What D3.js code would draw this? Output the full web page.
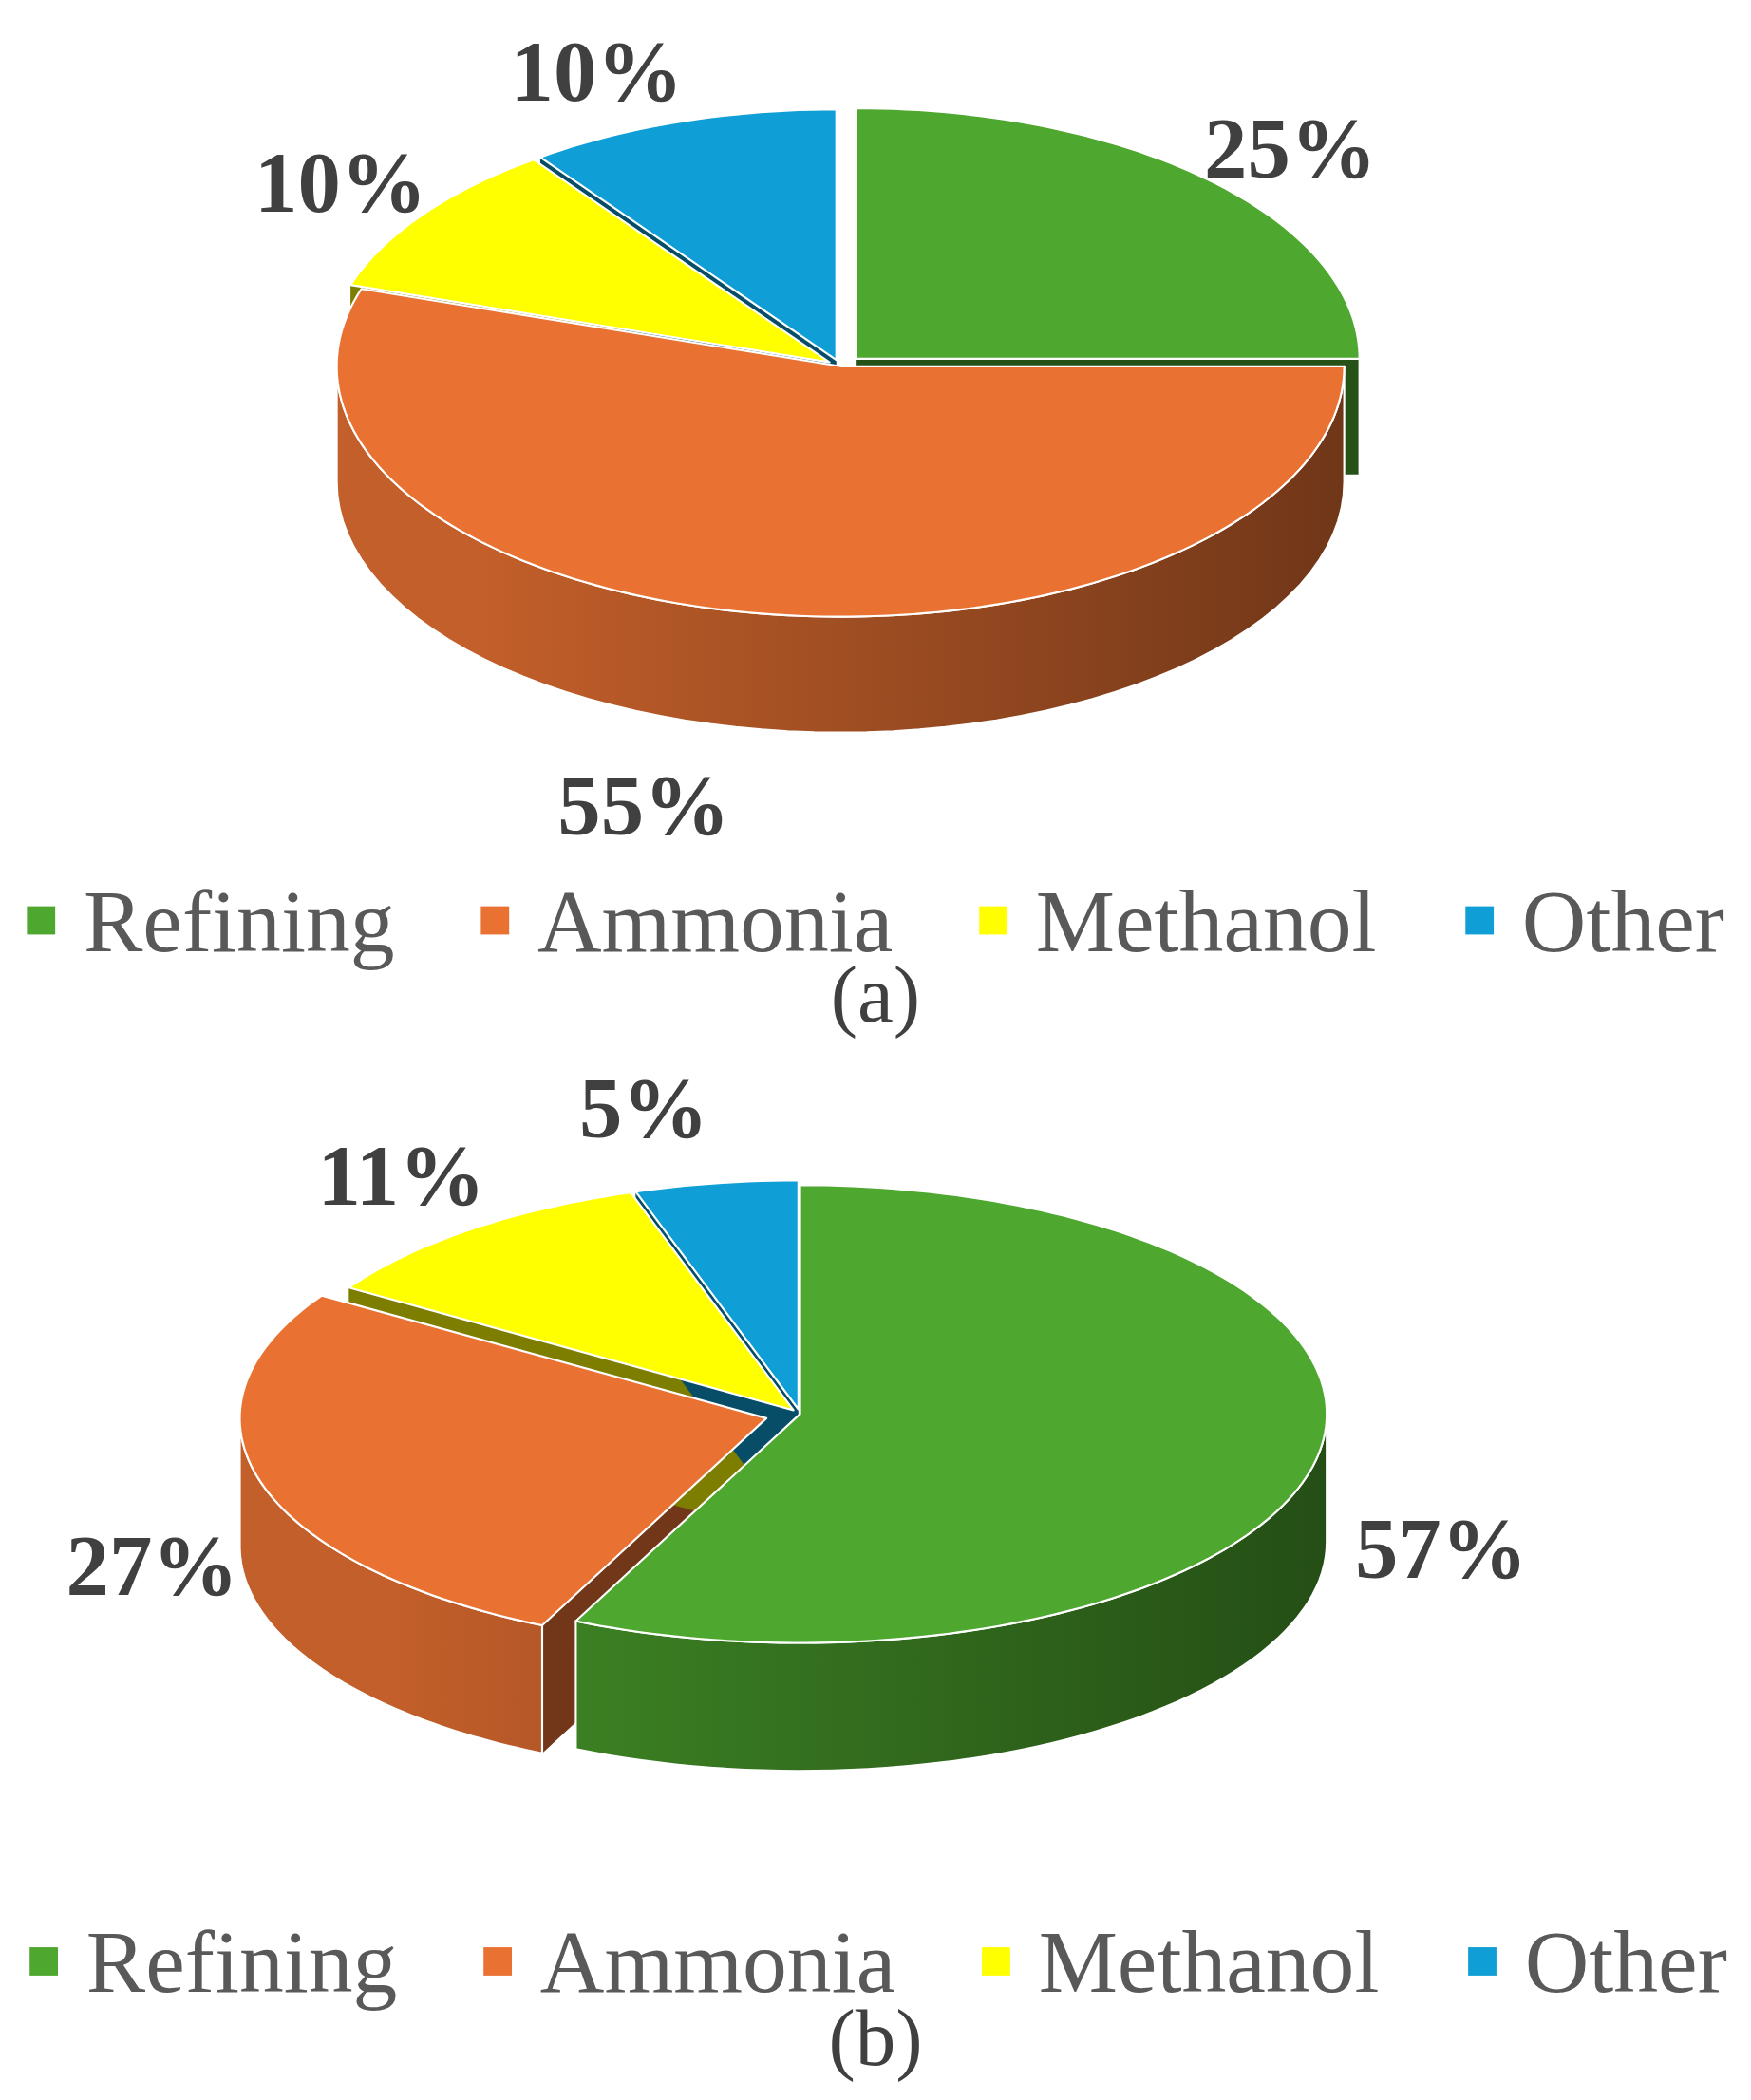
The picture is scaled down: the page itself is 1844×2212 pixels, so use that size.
<!DOCTYPE html>
<html><head><meta charset="utf-8">
<script src="https://cdn.jsdelivr.net/npm/d3@7"></script>
<style>body{margin:0;background:#fff}</style>
</head><body>
<svg id="chart" width="1844" height="2212"></svg>
<script>
var categories = ["Refining", "Ammonia", "Methanol", "Other"];
var colors = ["#4ea72e", "#e97132", "#ffff00", "#0f9ed5"];
var valuesA = [25, 55, 10, 10];
var valuesB = [57, 27, 11, 5];
var labelsA = ["25%", "55%", "10%", "10%"];
var labelsB = ["57%", "27%", "11%", "5%"];

var k = 1844/1300;
var svg = d3.select("#chart");
var root = svg.append("g").attr("transform", "scale(" + k + ")");
var defs = svg.append("defs");

function drawPie(opt) {
    var pie = d3.pie().sort(null).value(function(d){ return d; });
    var arcs = pie(opt.values);
    var cx = opt.cx, cy = opt.cy, rx = opt.rx, ry = opt.ry, h = opt.depth;
    var g = root.append("g");
    function pt(a, o) { return [cx + o[0] + rx*Math.sin(a), cy + o[1] - ry*Math.cos(a)]; }
    arcs.forEach(function(d, i) {
        var mid = (d.startAngle + d.endAngle)/2, e = opt.explode[i];
        d.off = [e*Math.sin(mid), -e*Math.cos(mid)*ry/rx];
    });
    // radial cut faces, only those facing the viewer
    arcs.forEach(function(d, i) {
        if (!opt.explode[i]) return;
        var faces = [];
        if (Math.sin(d.startAngle) < -0.01) faces.push(d.startAngle);
        if (Math.sin(d.endAngle) > 0.01) faces.push(d.endAngle);
        faces.forEach(function(a) {
            var c = [cx + d.off[0], cy + d.off[1]], p = pt(a, d.off);
            g.append("path")
                .attr("d", "M" + c + "L" + p + "L" + [p[0], p[1]+h] + "L" + [c[0], c[1]+h] + "Z")
                .attr("fill", d3.color(colors[i]).darker(2));
        });
    });
    // outer walls (front half only)
    arcs.forEach(function(d, i) {
        var a0 = Math.max(d.startAngle, Math.PI/2), a1 = Math.min(d.endAngle, 3*Math.PI/2);
        if (a1 <= a0) return;
        var id = "grad" + opt.id + i;
        var gr = defs.append("linearGradient").attr("id", id)
            .attr("gradientUnits", "userSpaceOnUse")
            .attr("x1", (cx - rx)*k).attr("x2", (cx + rx)*k).attr("y1", 0).attr("y2", 0);
        gr.append("stop").attr("offset", 0).attr("stop-color", d3.color(colors[i]).darker(0.5));
        gr.append("stop").attr("offset", 0.75).attr("stop-color", d3.color(colors[i]).darker(2.6));
        gr.append("stop").attr("offset", 1).attr("stop-color", d3.color(colors[i]).darker(2.6));
        var pts = d3.range(0, 61).map(function(j){ return pt(a0 + (a1-a0)*j/60, d.off); });
        var path = "M" + pts.map(String).join("L");
        pts.slice().reverse().forEach(function(p){ path += "L" + [p[0], p[1]+h]; });
        g.append("path").attr("d", path + "Z").attr("fill", "url(#" + id + ")")
            .attr("stroke", "#fff").attr("stroke-width", 1.5).attr("stroke-linejoin", "round");
    });
    // tops
    arcs.forEach(function(d, i) {
        var n = Math.max(4, Math.round((d.endAngle - d.startAngle)*40));
        var pts = d3.range(0, n+1).map(function(j){ return pt(d.startAngle + (d.endAngle-d.startAngle)*j/n, d.off); });
        g.append("path")
            .attr("d", "M" + [cx + d.off[0], cy + d.off[1]] + "L" + pts.map(String).join("L") + "Z")
            .attr("fill", colors[i]).attr("stroke", "#fff").attr("stroke-width", 1.5)
            .attr("stroke-linejoin", "round");
    });
    // data labels
    opt.labelPos.forEach(function(p, i) {
        g.append("text").attr("x", p[0]).attr("y", p[1])
            .attr("text-anchor", "middle").attr("dominant-baseline", "central")
            .attr("font-family", "Liberation Serif").attr("font-weight", "bold")
            .attr("font-size", 64).attr("fill", "#404040").text(opt.labels[i]);
    });
    // legend
    var lx = [20, 357, 727, 1088];
    categories.forEach(function(c, i) {
        g.append("rect").attr("x", lx[i] + opt.legendDx).attr("y", opt.legendY - 11)
            .attr("width", 21).attr("height", 21).attr("fill", colors[i]);
        g.append("text").attr("x", lx[i] + opt.legendDx + 42).attr("y", opt.legendY)
            .attr("dominant-baseline", "central").attr("font-family", "Liberation Serif")
            .attr("font-size", 66).attr("fill", "#595959").text(c);
    });
    g.append("text").attr("x", 650).attr("y", opt.captionY).attr("text-anchor", "middle")
        .attr("dominant-baseline", "central").attr("font-family", "Liberation Serif")
        .attr("font-size", 60).attr("fill", "#404040").text(opt.caption);
}

drawPie({id: "a", values: valuesA, labels: labelsA, cx: 624, cy: 272, rx: 374, ry: 186, depth: 86,
    explode: [16, 0, 10, 10],
    labelPos: [[958, 110], [478, 598], [253, 136], [443, 53]],
    legendY: 684, legendDx: 0, caption: "(a)", captionY: 738});
drawPie({id: "b", values: valuesB, labels: labelsB, cx: 594, cy: 1050, rx: 391, ry: 170, depth: 95,
    explode: [0, 26, 8, 8],
    labelPos: [[1070, 1150], [113, 1163], [298, 873], [478, 823]],
    legendY: 1457, legendDx: 2, caption: "(b)", captionY: 1513});
</script>
</body></html>
